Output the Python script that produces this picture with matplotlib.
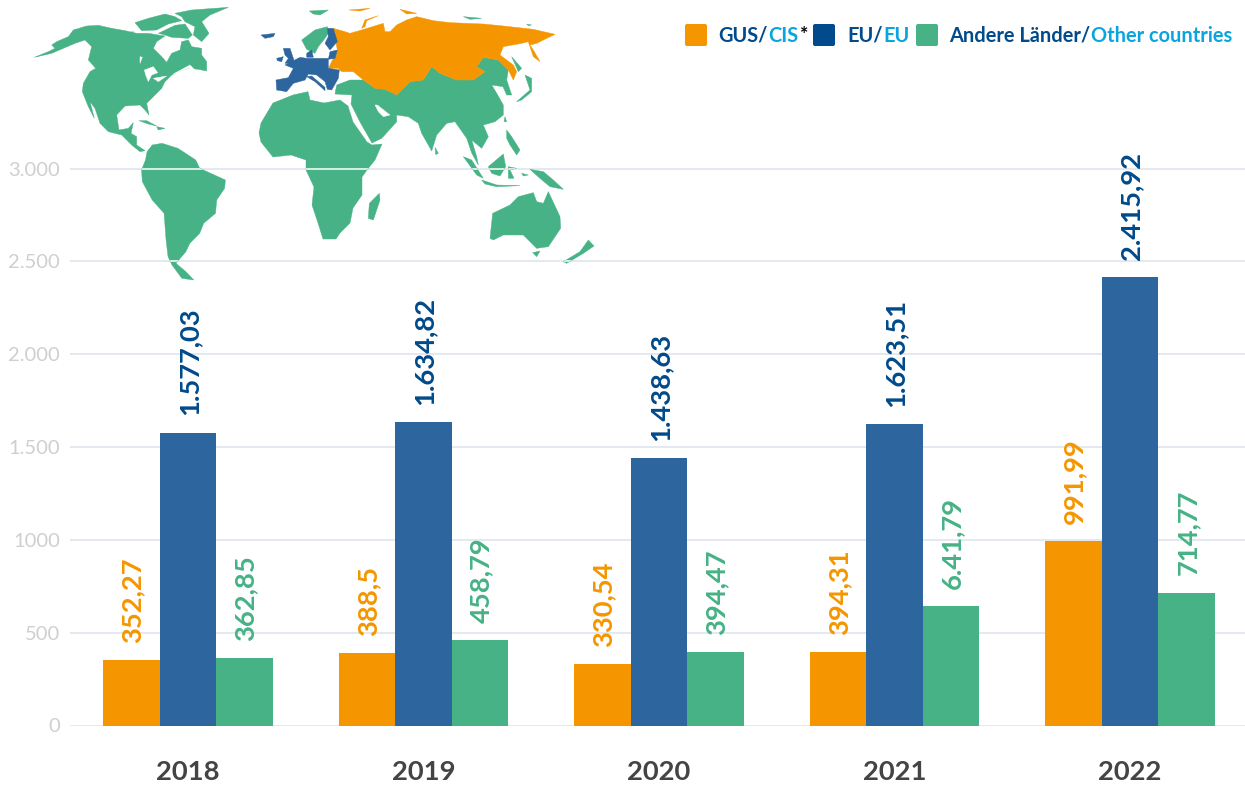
import matplotlib
matplotlib.use("Agg")
import matplotlib.pyplot as plt
from matplotlib.patches import Polygon, FancyBboxPatch
import numpy as np

plt.rcParams['font.family'] = ['Lato', 'DejaVu Sans']

# ---- data ----
years = ['2018', '2019', '2020', '2021', '2022']
gus = [352.27, 388.5, 330.54, 394.31, 991.99]
eu = [1577.03, 1634.82, 1438.63, 1623.51, 2415.92]
other = [362.85, 458.79, 394.47, 641.79, 714.77]
gus_labels = ['352,27', '388,5', '330,54', '394,31', '991,99']
eu_labels = ['1.577,03', '1.634,82', '1.438,63', '1.623,51', '2.415,92']
other_labels = ['362,85', '458,79', '394,47', '6.41,79', '714,77']
y_ticks = [0, 500, 1000, 1500, 2000, 2500, 3000]
y_tick_labels = ['0', '500', '1000', '1.500', '2.000', '2.500', '3.000']

ORANGE, BLUE, GREEN = '#F59600', '#2D659E', '#46B285'
NAVY, CYAN = '#014A8B', '#0AA5DF'
GREY, GRID, DARK = '#CFCFCF', '#DDE3EE', '#444444'

W, H = 1245, 785
fig = plt.figure(figsize=(W/100, H/100), dpi=100, facecolor='white')
Y0, Y3000, LEFT, STEP = 725.5, 168.5, 70.25, 235.5
ax = fig.add_axes([LEFT/W, (H-Y0)/H, 5*STEP/W, Y0/H])
ax.set_xlim(-0.5, 4.5)
ax.set_ylim(0, Y0*3000/(Y0-Y3000))
for s in ax.spines.values():
    s.set_visible(False)
ax.set_axisbelow(True)
ax.yaxis.grid(True, color=GRID, lw=1.1)
ax.set_yticks(y_ticks, y_tick_labels, color=GREY, fontsize=14.5)
ax.tick_params(axis='y', length=0, pad=7.5)
ax.set_xticks(range(5), years, color=DARK, fontsize=19.7, fontweight='bold')
ax.tick_params(axis='x', length=0, pad=25)

bw = 56.6/STEP
x = np.arange(5)
for off, vals, labs, fc, tc in [(-bw, gus, gus_labels, ORANGE, ORANGE),
                                (0, eu, eu_labels, BLUE, NAVY),
                                (bw, other, other_labels, GREEN, GREEN)]:
    ax.bar(x+off, vals, bw, color=fc, linewidth=0, zorder=3)
    for xi, v, lab in zip(x, vals, labs):
        ax.annotate(lab, (xi+off, v), xytext=(0.8, 12.5), textcoords='offset points',
                    rotation=90, ha='center', va='bottom', color=tc,
                    fontsize=19.7, fontweight='bold', zorder=4)

# ---- overlay in pixel space: map + legend ----
ov = fig.add_axes([0, 0, 1, 1], facecolor='none')
ov.set_xlim(0, W); ov.set_ylim(H, 0); ov.axis('off')

def crop(ox, oy, pts):
    return [(ox + a/3, oy + b/3) for a, b in pts]
def old(pts):
    return [(a/2.529, b/3) for a, b in pts]

MAP_GREEN = [
 crop(25, 0, [(28,172),(70,155),(90,145),(80,135),(95,125),(130,110),(145,90),(185,78),(220,76),(260,85),(300,92),(335,100),(370,100),(400,105),(420,108),(395,125),(385,145),(410,170),(425,187),(440,160),(465,150),(470,125),(490,120),(500,140),(530,145),(530,165),(545,185),(545,213),(520,208),(490,205),(460,215),(440,225),(420,245),(410,265),(385,290),(365,310),(372,345),(360,330),(345,315),(300,318),(275,345),(282,390),(310,385),(325,368),(318,400),(335,410),(335,435),(360,452),(345,455),(320,435),(290,405),(250,395),(225,370),(210,325),(195,305),(208,355),(190,320),(172,275),(175,250),(195,215),(212,205),(190,180),(200,140),(180,120),(150,130),(115,145),(80,160)]),
 crop(25, 0, [(330,68),(370,55),(420,42),(450,50),(470,62),(430,72),(395,90),(350,92)]),
 crop(25, 0, [(450,40),(500,30),(610,22),(555,45),(530,65),(552,100),(530,125),(505,105),(510,80),(480,65),(470,50)]),
 crop(25, 0, [(400,100),(450,76),(480,72),(502,105),(490,115),(440,112),(420,105)]),
 crop(25, 0, [(295,100),(325,95),(320,105),(300,107)]),
 crop(25, 0, [(300,130),(340,118),(335,125),(305,132)]),
 crop(25, 0, [(342,362),(365,362),(395,378),(370,372)]),
 crop(25, 0, [(395,380),(420,385),(400,390)]),
 # South America
 old([(372,455),(385,435),(410,430),(450,445),(495,480),(505,505),(570,540),(568,565),(548,600),(545,640),(515,670),(505,700),(480,730),(470,755),(445,790),(470,815),(490,840),(460,835),(435,795),(425,770),(420,720),(415,640),(385,600),(360,545),(358,510),(368,480)]),
 # Africa
 [(261,123),(273,103),(293,95),(308,91.7),(310,100),(324,103),(340,100),(348,106),(353,122),(367,142),(372,145),(382,144),(375,160),(367,170),(362,177),(362,195),(353,208),(350,223),(340,233),(336,239),(323,239),(318,223),(312,205),(314,187),(306,170),(306,160),(291,155),(273,157),(261,142),(259,133)],
 crop(340, 70, [(118,370),(120,390),(100,450),(85,445),(88,400)]),
 # Oceania
 crop(340, 70, [(450,505),(458,430),(510,405),(535,380),(580,368),(590,395),(610,400),(625,365),(660,440),(662,475),(625,530),(590,535),(565,510),(550,495),(490,495),(460,510)]),
 crop(340, 70, [(578,548),(600,543),(590,560)]),
 crop(340, 70, [(670,575),(720,545),(745,510),(762,528),(730,550),(680,580)]),
 # Asia
 [(336.7,85),(350,80),(363.3,80),(375,88.3),(385,89.3),(396.7,95),(410,81.7),(423.3,80),(431.7,66.7),(440,73.3),(456.7,80),(473.3,80),(485,71.7),(476.7,66.7),(483.3,57.3),(498.3,60),(508.3,70),(506.7,80),(511.7,95),(506.7,95),(503,86.7),(491.7,85),(496.7,93.3),(503.3,105),(503.3,115),(495,121.7),(483.3,125),(488.3,136.7),(481.7,148.3),(471.7,140),(476.7,156.7),(478.3,165),(471.7,153),(466.7,138.3),(455,121.7),(446.7,123.3),(436.7,135),(431.7,151),(421.7,133.3),(418.3,123.3),(408.3,116.7),(396.7,115),(396.7,121.7),(381.7,138.3),(372,143),(360,122),(351,104),(352,95),(335,94)],
 # Scandinavia, polar islands
 crop(250, 0, [(155,120),(195,90),(232,80),(235,100),(225,115),(205,140),(195,160),(170,148)]),
 crop(250, 0, [(178,33),(235,30),(210,45),(190,42)]),
 crop(250, 0, [(640,50),(695,55),(660,58)]),
 crop(250, 0, [(830,72),(845,75),(835,77)]),
 # Japan, Sakhalin
 crop(250, 0, [(800,305),(840,270),(825,225),(845,235),(845,275),(815,300)]),
 crop(250, 0, [(785,170),(815,205),(805,215)]),
 # South-East Asia
 crop(340, 70, [(285,232),(295,250),(287,254)]),
 crop(340, 70, [(370,260),(395,270),(430,325),(410,315)]),
 crop(340, 70, [(425,330),(470,345),(540,347),(470,350),(435,342)]),
 crop(340, 70, [(445,290),(490,252),(497,290),(480,318),(455,310)]),
 crop(340, 70, [(505,290),(530,295),(510,300),(522,325),(505,325)]),
 crop(340, 70, [(570,298),(610,305),(640,330),(670,358),(630,350),(600,325)]),
 crop(340, 70, [(500,180),(515,200),(540,240),(530,255),(510,225),(500,205)]),
 crop(340, 70, [(495,140),(500,155),(492,155)]),
 crop(340, 70, [(545,310),(565,315),(550,318)]),
]
MAP_ORANGE = [
 crop(250, 0, [(235,205),(262,150),(250,85),(285,95),(300,100),(335,90),(400,70),(405,95),(420,95),(440,75),(470,60),(500,50),(550,62),(600,68),(650,70),(700,72),(760,78),(850,88),(915,103),(890,115),(860,130),(840,135),(850,150),(870,185),(850,170),(835,125),(815,130),(760,140),(750,165),(790,195),(800,215),(790,240),(775,210),(745,180),(700,172),(680,200),(705,215),(670,240),(620,240),(570,220),(545,200),(520,240),(480,245),(440,285),(405,268),(375,265),(340,240),(310,215),(275,215),(265,205)]),
 crop(250, 0, [(335,85),(345,60),(385,47),(350,62),(345,80)]),
 crop(250, 0, [(297,30),(360,25),(330,33)]),
 crop(250, 0, [(450,28),(500,40),(470,42)]),
]
MAP_BLUE = [
 crop(250, 0, [(78,240),(115,233),(130,205),(105,195),(150,172),(170,175),(235,175),(235,205),(268,210),(265,235),(245,270),(232,268),(225,245),(200,225),(175,222),(165,240),(130,250),(110,275),(80,270)]),
 crop(250, 0, [(170,230),(185,228),(225,262),(225,272),(195,245)]),
 crop(250, 0, [(170,160),(185,150),(190,172),(170,172)]),
 crop(250, 0, [(100,145),(120,145),(135,190),(105,190),(115,175),(105,165)]),
 crop(250, 0, [(80,175),(100,170),(95,185),(82,182)]),
 crop(250, 0, [(232,85),(250,85),(262,125),(240,150),(225,130),(235,110)]),
 crop(250, 0, [(240,155),(262,150),(255,175),(235,178)]),
 crop(250, 0, [(33,105),(75,100),(70,110),(45,115)]),
]
MAP_HOLES = [
 crop(25, 0, [(358,210),(385,200),(398,218),(380,225),(370,245),(362,225)]),
 crop(25, 0, [(385,235),(425,228),(400,245)]),
 crop(25, 0, [(345,170),(352,172),(345,190)]),
 crop(25, 0, [(445,222),(495,195),(510,210),(490,205)]),
 crop(340, 70, [(105,105),(112,105),(150,135),(130,140),(115,125)]),
]
for polys, col in [(MAP_GREEN, GREEN), (MAP_ORANGE, ORANGE), (MAP_BLUE, BLUE), (MAP_HOLES, 'white')]:
    for p in polys:
        patch = Polygon(np.array(p), closed=True, fc=col, ec=col, lw=0.3)
        ov.add_patch(patch)
        if col == GREEN:
            ys = np.array(p)[:, 1]
            for yy in (Y3000, Y0 - 2500*(Y0-Y3000)/3000):
                if ys.min() < yy < ys.max():
                    ln = ov.axhline(yy, color='white', lw=1.1)
                    ln.set_clip_path(patch)

# legend
def runs(x, y, parts, size=14.4):
    r = fig.canvas.get_renderer()
    for s, c in parts:
        t = ov.text(x, y, s, color=c, fontsize=size, fontweight='bold', va='center', ha='left')
        x = t.get_window_extent(r).x1 + 0.5
    return x

for x0, c in [(685, ORANGE), (813, NAVY), (916, GREEN)]:
    ov.add_patch(FancyBboxPatch((x0+2, 26), 18, 18, boxstyle='round,pad=2', fc=c, ec='none'))
runs(718.5, 36, [('GUS/', NAVY), ('CIS', CYAN), ('*', 'black')])
runs(847.5, 36, [('EU/', NAVY), ('EU', CYAN)])
runs(949, 36, [('Andere Länder/', NAVY), ('Other countries', CYAN)])

fig.savefig('out.png', dpi=100)
